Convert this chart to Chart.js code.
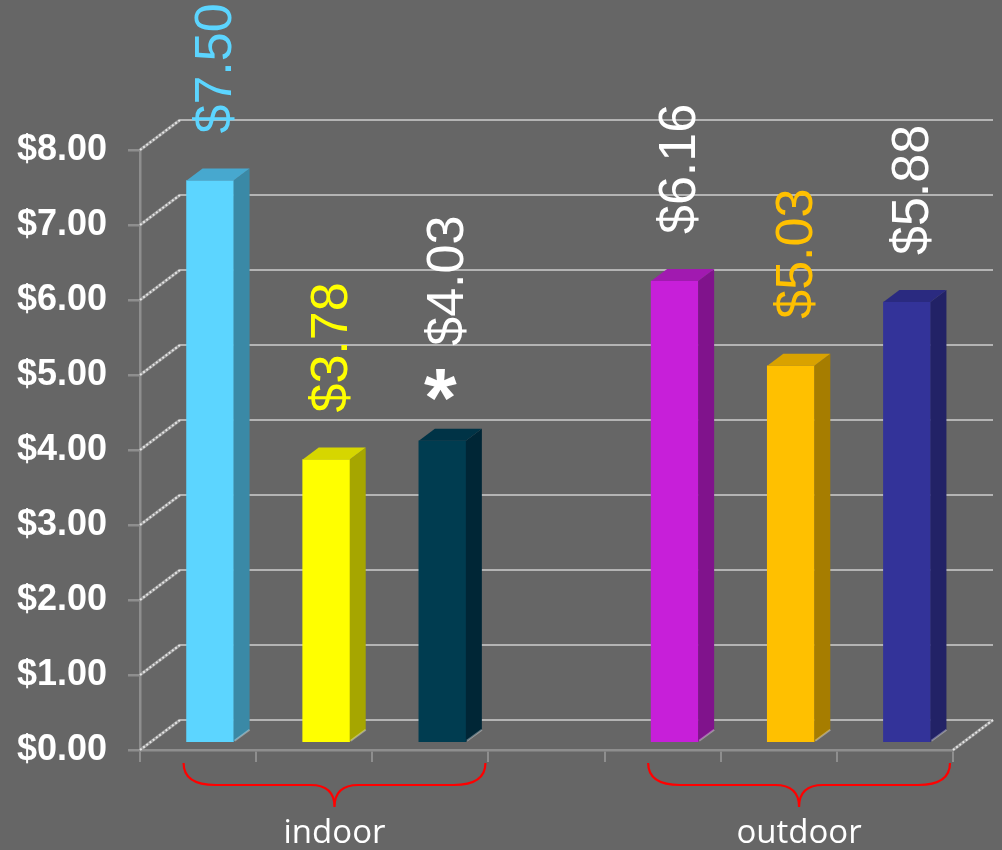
<!DOCTYPE html>
<html>
<head>
<meta charset="utf-8">
<script src="https://cdn.jsdelivr.net/npm/chart.js@4/dist/chart.umd.min.js"></script>
<style>
  html, body { margin: 0; padding: 0; background: #666666; }
  #wrap { width: 1002px; height: 850px; }
</style>
</head>
<body>
<div id="wrap"><canvas id="priceChart" width="1002" height="850"></canvas></div>
<script>
/* --------------- Data --------------------- */
const categories = ['indoor 1', 'indoor 2', 'indoor 3', '', 'outdoor 1', 'outdoor 2', 'outdoor 3'];
const prices = [7.50, 3.78, 4.03, null, 6.16, 5.03, 5.88];
const notes = ['', '', '*', '', '', '', ''];
const groupNames = ['indoor', 'outdoor'];
const groupFirst = [0, 4];
const groupLast = [2, 6];
const yTicks = [0, 1, 2, 3, 4, 5, 6, 7, 8];

/* --------------- Colors --------------------- */
const frontColors = ['#5CD5FF', '#FFFF00', '#003C50', null, '#C71FD9', '#FFC000', '#333399'];
const sideColors = ['#3A89A6', '#A6A600', '#002636', null, '#80138C', '#A67D00', '#222266'];
const topColors = ['#47A8CF', '#D6D600', '#003346', null, '#A11AB0', '#D9A200', '#2A2A80'];
const labelColors = ['#5CD5FF', '#FFFF00', '#FFFFFF', null, '#FFFFFF', '#FFC000', '#FFFFFF'];

const wall = { dx: 40, dy: -30 };   // back wall offset
const shift = { dx: 12, dy: -7 };   // bar front face offset
const barDepth = { dx: 16, dy: -12 };
const barWidth = 47;
const axisColor = '#8E8E8E';

const money = (v) => '$' + v.toFixed(2);

// light hatched diagonal like the side wall lines
function hatchLine(ctx, x0, y0, x1, y1) {
  ctx.strokeStyle = '#9A9A9A';
  ctx.lineWidth = 3;
  ctx.beginPath();
  ctx.moveTo(x0, y0);
  ctx.lineTo(x1, y1);
  ctx.stroke();
  ctx.strokeStyle = '#E6E6E6';
  ctx.lineWidth = 2;
  ctx.setLineDash([2, 2]);
  ctx.stroke();
  ctx.setLineDash([]);
}

/* --------------- 3D wall, bar sides, labels --------------------- */
const threeD = {
  id: 'threeD',
  beforeDatasetsDraw(chart) {
    const { ctx, scales: { x, y } } = chart;
    const left = x.left, right = x.right;
    ctx.save();
    yTicks.forEach((v) => {
      const py = y.getPixelForValue(v);
      ctx.strokeStyle = '#B4B4B4';
      ctx.lineWidth = 2;
      ctx.beginPath();
      ctx.moveTo(left + wall.dx, py + wall.dy);
      ctx.lineTo(right + wall.dx, py + wall.dy);
      ctx.stroke();
      hatchLine(ctx, left, py, left + wall.dx, py + wall.dy);
    });
    const base = y.getPixelForValue(0);
    hatchLine(ctx, right, base, right + wall.dx, base + wall.dy);
    ctx.restore();

    ctx.save();
    ctx.translate(shift.dx, shift.dy);
  },
  afterDatasetsDraw(chart) {
    const { ctx } = chart;
    const bars = chart.getDatasetMeta(0).data;
    bars.forEach((bar, i) => {
      if (prices[i] == null) return;
      const { x, y, base, width } = bar.getProps(['x', 'y', 'base', 'width'], true);
      const l = x - width / 2, r = x + width / 2;
      ctx.fillStyle = sideColors[i];
      ctx.beginPath();
      ctx.moveTo(r, y);
      ctx.lineTo(r + barDepth.dx, y + barDepth.dy);
      ctx.lineTo(r + barDepth.dx, base + barDepth.dy);
      ctx.lineTo(r, base);
      ctx.closePath();
      ctx.fill();
      ctx.fillStyle = topColors[i];
      ctx.beginPath();
      ctx.moveTo(l, y);
      ctx.lineTo(l + barDepth.dx, y + barDepth.dy);
      ctx.lineTo(r + barDepth.dx, y + barDepth.dy);
      ctx.lineTo(r, y);
      ctx.closePath();
      ctx.fill();
      ctx.strokeStyle = 'rgba(255,255,255,0.35)';
      ctx.lineWidth = 2;
      ctx.beginPath();
      ctx.moveTo(r + 1, base - 1);
      ctx.lineTo(r + barDepth.dx, base + barDepth.dy);
      ctx.stroke();
    });
    ctx.restore();

    // value labels, rotated; a note mark stands upright below its label
    const size = 52;
    ctx.save();
    ctx.textBaseline = 'alphabetic';
    bars.forEach((bar, i) => {
      if (prices[i] == null) return;
      const { x, y } = bar.getProps(['x', 'y'], true);
      const cx = x + shift.dx + 2;
      let start = y + shift.dy - 47;
      ctx.fillStyle = labelColors[i];
      if (notes[i]) {
        ctx.font = 'bold 84px "Liberation Sans", Arial, sans-serif';
        ctx.textAlign = 'center';
        const m = ctx.measureText(notes[i]);
        const h = m.actualBoundingBoxAscent + m.actualBoundingBoxDescent;
        const bottom = start + 7;
        ctx.fillText(notes[i], cx - 4, bottom - m.actualBoundingBoxDescent);
        start = bottom - h - 23;
      }
      ctx.font = size + 'px "Liberation Sans", Arial, sans-serif';
      ctx.textAlign = 'left';
      ctx.save();
      ctx.translate(cx, start);
      ctx.rotate(-Math.PI / 2);
      ctx.fillText(money(prices[i]), 0, size * 0.36);
      ctx.restore();
    });
    ctx.restore();
  },
  afterDraw(chart) {
    const { ctx, scales: { x } } = chart;
    const step = (x.right - x.left) / categories.length;
    const top = 763, mid = 785, bottom = 807;
    ctx.save();
    groupNames.forEach((name, g) => {
      const x0 = x.getPixelForValue(groupFirst[g]) - barWidth / 2 + shift.dx - 3;
      const x1 = x.getPixelForValue(groupLast[g]) + step / 2 - 3;
      const xc = (x0 + x1) / 2;
      ctx.strokeStyle = '#FF0000';
      ctx.lineWidth = 2.2;
      ctx.beginPath();
      ctx.moveTo(x0, top);
      ctx.quadraticCurveTo(x0, mid, x0 + 32, mid);
      ctx.lineTo(xc - 24, mid);
      ctx.quadraticCurveTo(xc, mid, xc, bottom);
      ctx.quadraticCurveTo(xc, mid, xc + 24, mid);
      ctx.lineTo(x1 - 32, mid);
      ctx.quadraticCurveTo(x1, mid, x1, top);
      ctx.stroke();

      ctx.fillStyle = '#FFFFFF';
      ctx.font = '33px "Open Sans", sans-serif';
      ctx.textAlign = 'center';
      ctx.textBaseline = 'alphabetic';
      ctx.fillText(name, xc, 843);
    });
    ctx.restore();
  }
};

new Chart(document.getElementById('priceChart'), {
  type: 'bar',
  plugins: [threeD],
  data: {
    labels: categories,
    datasets: [{
      data: prices,
      backgroundColor: frontColors,
      barThickness: barWidth,
      borderWidth: 0,
      clip: false,
    }],
  },
  options: {
    responsive: false,
    animation: false,
    layout: { padding: { top: 150, right: 49, left: 0, bottom: 0 } },
    plugins: {
      legend: { display: false },
      tooltip: { enabled: false },
    },
    scales: {
      x: {
        afterFit: (scale) => { scale.height = 100; },
        grid: {
          offset: true,
          drawOnChartArea: false,
          drawTicks: true,
          tickLength: 12,
          color: axisColor,
          lineWidth: 2,
        },
        border: { display: true, color: axisColor, width: 2.5 },
        ticks: { display: false },
      },
      y: {
        min: 0,
        max: 8,
        afterFit: (scale) => { scale.width = 140; },
        afterBuildTicks: (scale) => { scale.ticks = yTicks.map((v) => ({ value: v })); },
        grid: {
          drawOnChartArea: false,
          drawTicks: true,
          tickLength: 12,
          color: axisColor,
          lineWidth: 2.5,
        },
        border: { display: true, color: axisColor, width: 2.5 },
        ticks: {
          padding: 21,
          color: '#FFFFFF',
          font: { family: '"Liberation Sans", Arial, sans-serif', size: 36, weight: 'bold' },
          callback: (v) => money(v),
        },
      },
    },
  },
});
</script>
</body>
</html>
